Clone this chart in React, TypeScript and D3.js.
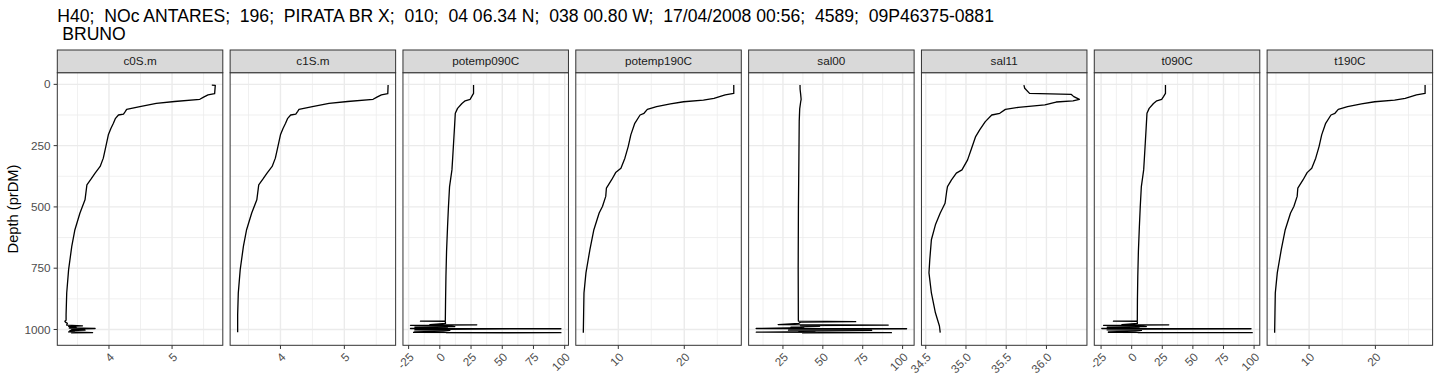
import React from "react";
import * as d3 from "d3";

const titleLines = [
  "H40;  NOc ANTARES;  196;  PIRATA BR X;  010;  04 06.34 N;  038 00.80 W;  17/04/2008 00:56;  4589;  09P46375-0881",
  " BRUNO",
];
const yAxisTitle = "Depth (prDM)";
const panelNames = ["c0S.m", "c1S.m", "potemp090C", "potemp190C", "sal00", "sal11", "t090C", "t190C"];
const depthTicks = [0, 250, 500, 750, 1000];

// [depth, value]
const c0sProfile = [[3,5.63],[4,5.685],[38,5.675],[43,5.57],[52,5.5],[61,5.44],[70,5.04],[78,4.75],[91,4.49],[102,4.28],[110,4.26],[121,4.23],[125,4.15],[140,4.1],[159,4.07],[180,4.03],[206,3.99],[254,3.95],[301,3.91],[335,3.86],[362,3.78],[385,3.72],[410,3.65],[471,3.62],[525,3.54],[593,3.46],[661,3.41],[756,3.36],[851,3.33],[940,3.32],[962,3.32],[966,3.3],[970,3.31],[975,3.34],[982,3.33],[985,3.58],[987,3.36],[992,3.48],[994,3.37],[996,3.78],[998,3.4],[1001,3.42],[1003,3.62],[1005,3.38],[1008,3.45],[1010,3.36],[1013,3.74],[1014,3.4]];
const c1sProfile = [[3,5.685],[38,5.68],[43,5.58],[52,5.51],[61,5.45],[70,5.05],[78,4.76],[91,4.5],[102,4.29],[110,4.27],[121,4.24],[125,4.16],[140,4.11],[159,4.08],[180,4.04],[206,4.0],[254,3.96],[301,3.92],[335,3.87],[362,3.79],[385,3.73],[410,3.66],[471,3.63],[525,3.55],[593,3.47],[661,3.42],[756,3.37],[851,3.34],[940,3.33],[1011,3.33]];
const potemp0Profile = [[3,27.0],[37,27.0],[50,25.5],[61,24.3],[67,20.3],[78,17.7],[98,14.2],[118,12.4],[180,11.7],[240,11.0],[300,10.3],[349,9.7],[417,7.8],[500,6.9],[579,6.2],[680,5.4],[783,4.9],[880,4.6],[962,4.4],[965,4.4],[966,-15.5],[967,4.3],[975,4.6],[980,-8],[981,29.6],[983,-23.5],[985,5],[988,12],[990,-20],[992,6],[995,3],[996,-23.5],[997,97],[999,4],[1002,-20],[1004,8],[1007,3],[1010,-20],[1012,-21],[1013,97],[1014,5]];
const potemp1Profile = [[3,27.5],[37,27.5],[43,26.2],[57,24.5],[64,22.9],[71,19.9],[80,17.9],[91,15.8],[102,14.4],[118,13.9],[125,13.3],[159,12.5],[206,11.9],[254,11.5],[301,11.0],[342,10.4],[360,9.6],[389,9.0],[423,8.2],[457,8.1],[498,7.6],[525,7.1],[593,6.3],[674,5.7],[769,5.1],[851,4.8],[932,4.75],[1013,4.7]];
const sal0Profile = [[3,35.7],[20,35.75],[40,36.1],[61,36.4],[72,36.1],[100,35.5],[150,35.2],[300,35.0],[500,34.7],[750,34.55],[962,34.65],[966,34.7],[968,70.6],[970,36],[975,35],[980,22],[982,91],[984,36],[987,48],[990,30],[993,38],[996,8.2],[997,102.5],[999,36],[1001,60],[1003,28.5],[1004,80.6],[1006,35],[1009,45],[1011,8.3],[1013,93],[1014,37]];
const sal1Profile = [[3,35.72],[16,35.73],[37,35.79],[41,36.31],[50,36.34],[61,36.41],[67,36.33],[72,36.12],[84,35.98],[94,35.65],[102,35.49],[118,35.42],[125,35.32],[152,35.24],[186,35.17],[213,35.12],[261,35.07],[308,35.02],[349,34.95],[362,34.88],[390,34.82],[417,34.77],[437,34.76],[485,34.74],[525,34.68],[573,34.62],[634,34.57],[715,34.55],[769,34.54],[851,34.57],[932,34.62],[986,34.67],[1013,34.68]];
const t0Profile = [[3,27.6],[37,27.6],[50,26],[61,24.5],[67,20.5],[78,17.8],[98,14.3],[118,12.5],[180,11.8],[240,11.1],[300,10.4],[349,9.8],[417,7.9],[500,7.0],[579,6.3],[680,5.5],[783,5.0],[880,4.7],[962,4.6],[965,4.6],[966,-14.9],[967,4.5],[975,4.7],[980,-8],[981,30.3],[983,-23],[985,5],[988,12],[990,-20],[992,6],[995,3],[996,-24.4],[997,97.5],[999,4],[1002,-20],[1004,8],[1007,3],[1010,-19],[1012,-19],[1013,98.5],[1014,5]];
const t1Profile = [[3,27.5],[37,27.5],[43,26.2],[57,24.5],[64,22.9],[71,19.9],[80,17.9],[91,15.8],[102,14.4],[118,13.9],[125,13.3],[159,12.5],[206,11.9],[254,11.5],[301,11.0],[342,10.4],[360,9.7],[389,9.1],[423,8.3],[457,8.2],[498,7.7],[525,7.2],[593,6.4],[674,5.8],[769,5.2],[851,4.9],[932,4.85],[1013,4.8]];

const c0sTicks = [4, 5];
const c1sTicks = [4, 5];
const potemp0Ticks = [-25, 0, 25, 50, 75, 100];
const potemp1Ticks = [10, 20];
const sal0Ticks = [25, 50, 75, 100];
const sal1Ticks = [34.5, 35.0, 35.5, 36.0];
const t0Ticks = [-25, 0, 25, 50, 75, 100];
const t1Ticks = [10, 20];

const c0sTickLabels = ["4", "5"];
const c1sTickLabels = ["4", "5"];
const potemp0TickLabels = ["-25", "0", "25", "50", "75", "100"];
const potemp1TickLabels = ["10", "20"];
const sal0TickLabels = ["25", "50", "75", "100"];
const sal1TickLabels = ["34.5", "35.0", "35.5", "36.0"];
const t0TickLabels = ["-25", "0", "25", "50", "75", "100"];
const t1TickLabels = ["10", "20"];

const profiles = [c0sProfile, c1sProfile, potemp0Profile, potemp1Profile, sal0Profile, sal1Profile, t0Profile, t1Profile];
const tickSets = [c0sTicks, c1sTicks, potemp0Ticks, potemp1Ticks, sal0Ticks, sal1Ticks, t0Ticks, t1Ticks];
const tickLabelSets = [c0sTickLabels, c1sTickLabels, potemp0TickLabels, potemp1TickLabels, sal0TickLabels, sal1TickLabels, t0TickLabels, t1TickLabels];

const W = 1440, H = 384;
const PL = 57.3, PW = 165.5, GAP = 7.33;
const PT = 72.7, PB = 345.3, ST = 50;
const FONT = "'Liberation Sans', Arial, Helvetica, sans-serif";
const TICK = 3.67;

function minorOf(ticks: number[], domain: number[]) {
  const step = ticks[1] - ticks[0];
  const ext = [ticks[0] - step, ...ticks, ticks[ticks.length - 1] + step];
  const out: number[] = [];
  for (let i = 0; i < ext.length - 1; i++) out.push((ext[i] + ext[i + 1]) / 2);
  const lo = Math.min(domain[0], domain[1]), hi = Math.max(domain[0], domain[1]);
  return out.filter((v) => v >= lo && v <= hi);
}

function expand(ext: [number, number]) {
  const r = ext[1] - ext[0];
  return [ext[0] - 0.05 * r, ext[1] + 0.05 * r];
}

export default function App() {
  const allDepth = profiles.flatMap((p) => p.map((d) => d[0]));
  const yDom = expand(d3.extent(allDepth) as [number, number]);
  const y = d3.scaleLinear().domain(yDom).range([PT, PB]);
  const yMinor = minorOf(depthTicks, yDom);

  return (
    <svg width={W} height={H} style={{ position: "absolute", left: 0, top: 0, background: "#fff" }} fontFamily={FONT}>
      <rect x={0} y={0} width={W} height={H} fill="#fff" />
      {titleLines.map((t, i) => (
        <text key={i} x={PL} y={22 + i * 18} fontSize={17.6} fill="#000" style={{ whiteSpace: "pre" }}>
          {t}
        </text>
      ))}
      <text transform={`translate(18,${(PT + PB) / 2}) rotate(-90)`} textAnchor="middle" fontSize={14.67} fill="#000">
        {yAxisTitle}
      </text>
      {depthTicks.map((t) => (
        <g key={t}>
          <line x1={PL - TICK} x2={PL} y1={y(t)} y2={y(t)} stroke="#333" strokeWidth={1} />
          <text x={PL - TICK - 3} y={y(t)} dy="0.35em" textAnchor="end" fontSize={11.73} fill="#4D4D4D">
            {t}
          </text>
        </g>
      ))}
      {panelNames.map((name, i) => {
        const left = PL + i * (PW + GAP);
        const prof = profiles[i];
        const xDom = expand(d3.extent(prof.map((d) => d[1])) as [number, number]);
        const x = d3.scaleLinear().domain(xDom).range([left, left + PW]);
        const ticks = tickSets[i];
        const labels = tickLabelSets[i];
        const xMinor = minorOf(ticks, xDom);
        const line = d3
          .line<number[]>()
          .x((d) => x(d[1]))
          .y((d) => y(d[0]));
        return (
          <g key={name}>
            <rect x={left} y={PT} width={PW} height={PB - PT} fill="#fff" />
            {yMinor.map((v) => (
              <line key={"ym" + v} x1={left} x2={left + PW} y1={y(v)} y2={y(v)} stroke="#EBEBEB" strokeWidth={0.75} />
            ))}
            {xMinor.map((v) => (
              <line key={"xm" + v} x1={x(v)} x2={x(v)} y1={PT} y2={PB} stroke="#EBEBEB" strokeWidth={0.75} />
            ))}
            {depthTicks.map((v) => (
              <line key={"yM" + v} x1={left} x2={left + PW} y1={y(v)} y2={y(v)} stroke="#EBEBEB" strokeWidth={1.4} />
            ))}
            {ticks.map((v) => (
              <line key={"xM" + v} x1={x(v)} x2={x(v)} y1={PT} y2={PB} stroke="#EBEBEB" strokeWidth={1.4} />
            ))}
            <path d={line(prof) || ""} fill="none" stroke="#000" strokeWidth={1.3} strokeLinejoin="round" />
            <rect x={left} y={PT} width={PW} height={PB - PT} fill="none" stroke="#333" strokeWidth={1} />
            <rect x={left} y={ST} width={PW} height={PT - ST} fill="#D9D9D9" stroke="#333" strokeWidth={1} />
            <text x={left + PW / 2} y={(ST + PT) / 2} dy="0.35em" textAnchor="middle" fontSize={11.73} fill="#1A1A1A">
              {name}
            </text>
            {ticks.map((v, k) => (
              <g key={"t" + v}>
                <line x1={x(v)} x2={x(v)} y1={PB} y2={PB + TICK} stroke="#333" strokeWidth={1} />
                <text
                  transform={`translate(${x(v)},${PB + TICK + 2.9}) rotate(-45)`}
                  dy="0.72em"
                  textAnchor="end"
                  fontSize={11.73}
                  fill="#4D4D4D"
                >
                  {labels[k]}
                </text>
              </g>
            ))}
          </g>
        );
      })}
    </svg>
  );
}
